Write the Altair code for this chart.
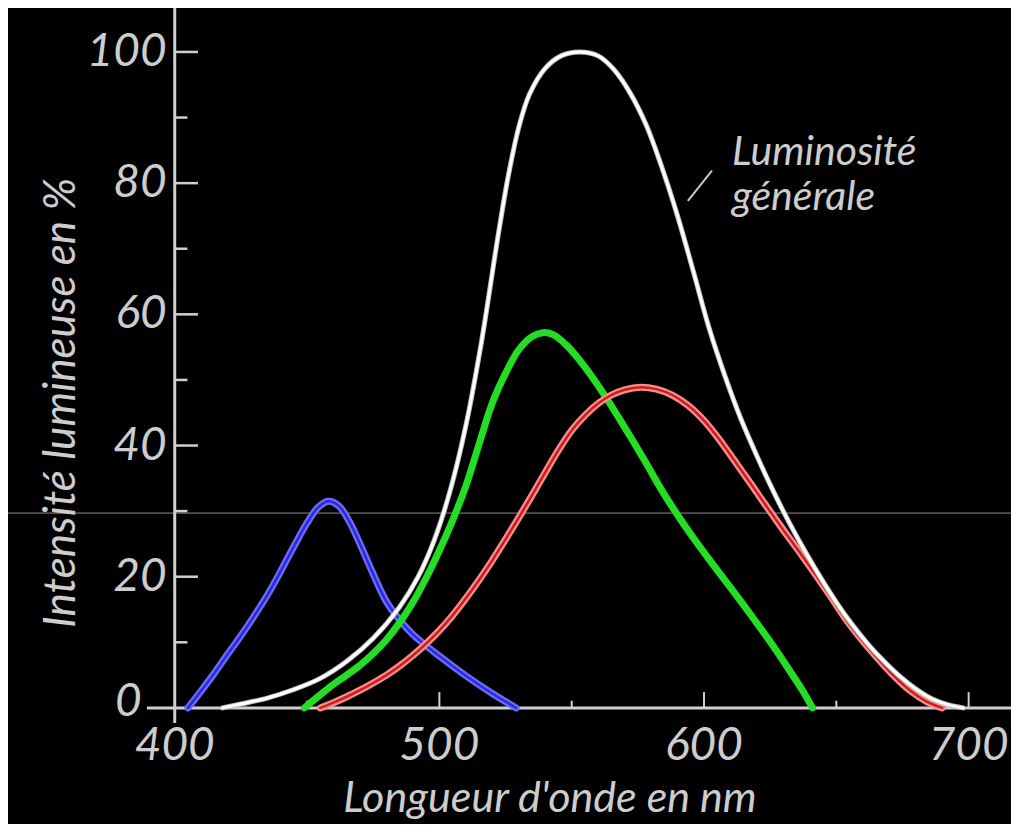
import altair as alt
import pandas as pd

# ---------------- data ----------------
blue_nm = [405, 410, 415, 420, 425, 430, 435, 440, 445, 450, 454, 458, 462, 466, 470, 475, 480, 485,
           490, 500, 510, 520, 529]
blue_val = [0, 2.6, 5.3, 8.2, 11, 14, 17.2, 20.8, 24.6, 28.2, 30.5, 31.5, 30.8, 28.4, 25, 20.4, 16.2, 13.4,
            11.2, 7.9, 4.9, 2.2, 0]

green_nm = [449, 455, 460, 465, 470, 475, 480, 485, 490, 495, 500, 505, 510, 515, 520, 525, 530, 535, 539,
            543, 548, 553, 558, 563, 568, 573, 578, 584, 590, 596, 602, 608, 614, 620, 626, 632, 637, 641]
green_val = [0, 2, 3.6, 5, 6.5, 8.3, 10.4, 13, 16.1, 19.8, 24, 28.6, 33.8, 40.2, 46.5, 51, 54.6, 56.6, 57.2,
             56.9, 55.3, 53, 50.3, 47.3, 44.1, 40.8, 37.4, 33.2, 29.4, 25.9, 22.6, 19.4, 16.2, 12.9, 9.5,
             5.9, 2.8, 0]

red_nm = [455, 460, 465, 470, 475, 480, 485, 490, 495, 500, 505, 510, 515, 520, 525, 530, 535, 540, 545,
          550, 555, 560, 565, 570, 576, 582, 588, 594, 600, 606, 612, 618, 624, 630, 636, 642, 648, 654,
          660, 666, 672, 678, 684, 690]
red_val = [0, 0.8, 1.7, 2.7, 3.8, 5, 6.4, 8, 9.8, 11.8, 14.1, 16.7, 19.5, 22.5, 25.7, 29, 32.4, 35.9, 39.3,
           42.3, 44.6, 46.4, 47.7, 48.5, 48.9, 48.6, 47.7, 46.1, 43.8, 40.8, 37.4, 34, 30.5, 27.1, 23.8,
           20.4, 16.9, 13.3, 10.2, 7.4, 4.8, 2.6, 1, 0]

white_nm = [418, 425, 435, 445, 455, 465, 475, 485, 492, 498, 504, 510, 516, 522, 526, 530, 534, 540, 546,
            553, 560, 566, 572, 578, 584, 590, 596, 602, 608, 614, 620, 626, 632, 638, 644, 650, 656, 662,
            668, 674, 680, 686, 692, 698]
white_val = [0, 0.6, 1.5, 2.8, 4.5, 7.1, 10.6, 15.4, 20, 25.5, 33, 43, 56, 71.5, 81, 88.5, 93.5, 97.5, 99.4,
             100, 99.4, 97.3, 93.8, 89, 82.5, 75, 66.5, 57.8, 50.5, 44, 38.4, 33.2, 28.4, 24, 19.9, 16.1,
             12.7, 9.7, 7.1, 4.8, 2.9, 1.4, 0.5, 0]

x_ticks_major = [500, 600, 700]
x_ticks_minor = [450, 550, 650]
x_labels = ["400", "500", "600", "700"]
x_label_pos = [400, 500, 600, 700]
y_ticks_major = [20, 40, 60, 80, 100]
y_ticks_minor = [10, 30, 50, 70, 90]
y_labels = ["20", "40", "60", "80", "100"]

X_DOMAIN = [337, 716]
Y_DOMAIN = [-17.7, 106.7]

FONT = "Lato"
TXT = "#cdcdcd"
AX = "#d0d0d0"

xs = alt.Scale(domain=X_DOMAIN, nice=False, zero=False)
ys = alt.Scale(domain=Y_DOMAIN, nice=False, zero=False)
X = alt.X("nm:Q", scale=xs, axis=None)
Y = alt.Y("val:Q", scale=ys, axis=None)


def curve(nm, val, color, width):
    df = pd.DataFrame({"nm": nm, "val": val})
    return alt.Chart(df).mark_line(color=color, strokeWidth=width, interpolate="catmull-rom",
                                   strokeCap="round", strokeJoin="round").encode(x=X, y=Y)


def text_layer(df, size, **kw):
    return (alt.Chart(df)
            .mark_text(font=FONT, fontSize=size, fontStyle="italic", fontWeight=400, color=TXT, **kw)
            .encode(x=X, y=Y, text="t:N"))


layers = []

# thin grey horizontal artefact line
layers.append(alt.Chart(pd.DataFrame({"val": [29.7]})).mark_rule(color="#8c8c8c", strokeWidth=1)
              .encode(y=Y))

# axis lines
layers.append(alt.Chart(pd.DataFrame({"nm": [400], "val": [-2.3], "val2": [106.7]}))
              .mark_rule(color=AX, strokeWidth=3).encode(x=X, y=Y, y2="val2:Q"))
layers.append(alt.Chart(pd.DataFrame({"nm": [389.5], "nm2": [716], "val": [0]}))
              .mark_rule(color=AX, strokeWidth=3).encode(x=X, x2="nm2:Q", y=Y))

# y ticks (inward)
layers.append(alt.Chart(pd.DataFrame({"nm": [400] * 5, "nm2": [408.8] * 5, "val": y_ticks_major}))
              .mark_rule(color=AX, strokeWidth=2.5).encode(x=X, x2="nm2:Q", y=Y))
layers.append(alt.Chart(pd.DataFrame({"nm": [400] * 5, "nm2": [404.8] * 5, "val": y_ticks_minor}))
              .mark_rule(color=AX, strokeWidth=2.5).encode(x=X, x2="nm2:Q", y=Y))
# x ticks (inward)
layers.append(alt.Chart(pd.DataFrame({"nm": x_ticks_major, "val": [0] * 3, "val2": [2.4] * 3}))
              .mark_rule(color=AX, strokeWidth=2).encode(x=X, y=Y, y2="val2:Q"))
layers.append(alt.Chart(pd.DataFrame({"nm": x_ticks_minor, "val": [0] * 3, "val2": [1.1] * 3}))
              .mark_rule(color=AX, strokeWidth=2).encode(x=X, y=Y, y2="val2:Q"))

# curves: blue and red drawn as outlined (light edge, dark core)
layers.append(curve(blue_nm, blue_val, "#6b6bff", 7))
layers.append(curve(blue_nm, blue_val, "#2b2bd6", 2.5))
layers.append(curve(green_nm, green_val, "#24dd24", 7))
layers.append(curve(red_nm, red_val, "#ff8a8a", 7))
layers.append(curve(red_nm, red_val, "#c42020", 2.5))
layers.append(curve(white_nm, white_val, "#bdbdbd", 5))
layers.append(curve(white_nm, white_val, "#ffffff", 3))

# annotation pointer
layers.append(alt.Chart(pd.DataFrame({"nm": [603.0], "val": [81.9], "nm2": [593.9], "val2": [77.3]}))
              .mark_rule(color="#c8c8c8", strokeWidth=2).encode(x=X, y=Y, x2="nm2:Q", y2="val2:Q"))

# tick labels
layers.append(text_layer(pd.DataFrame({"nm": [400] * 5, "val": y_ticks_major, "t": y_labels}), 46,
                         align="right", baseline="middle", dx=-8))
layers.append(text_layer(pd.DataFrame({"nm": [400], "val": [0], "t": ["0"]}), 46,
                         align="right", baseline="middle", dx=-33, dy=-6))
layers.append(text_layer(pd.DataFrame({"nm": x_label_pos, "val": [-5.8] * 4, "t": x_labels}), 46,
                         align="center", baseline="middle"))

# axis titles
layers.append(text_layer(pd.DataFrame({"nm": [357.4], "val": [46.5], "t": ["Intensité lumineuse en %"]}), 44,
                         align="center", baseline="middle", angle=270))
layers.append(text_layer(pd.DataFrame({"nm": [541.8], "val": [-13.9], "t": ["Longueur d'onde en nm"]}), 43,
                         align="center", baseline="middle"))

# annotation text
layers.append(text_layer(pd.DataFrame({"nm": [610.6, 610.6], "val": [82.8, 75.9],
                                       "t": ["Luminosité", "générale"]}), 41,
                         align="left", baseline="alphabetic"))

chart = alt.layer(*layers).properties(
    width=1003, height=816, background="black", padding=0,
    autosize=alt.AutoSizeParams(type="none")
).configure_view(strokeWidth=0)

chart.save("out.html", embed_options={"renderer": "svg", "actions": False})
